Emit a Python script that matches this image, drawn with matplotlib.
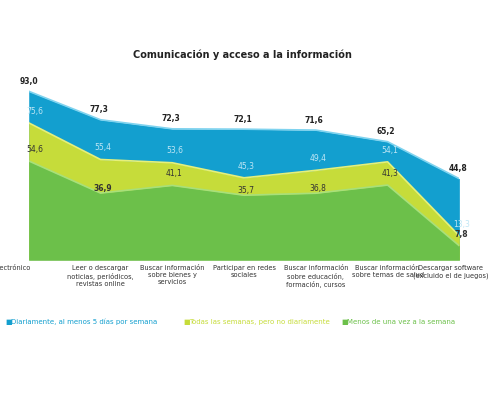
import matplotlib.pyplot as plt
import numpy as np

categories = ["Correo electrónico", "Leer o descargar\nnoticias, periódicos,\nrevistas online",
              "Buscar información\nsobre bienes y\nservicios", "Participar en redes\nsociales",
              "Buscar información\nsobre educación,\nformación, cursos", "Buscar información\nsobre temas de salud",
              "Descargar software\n(excluido el de juegos)"]
diario = [93.0, 77.3, 72.3, 72.1, 71.6, 65.2, 44.8]
semanal = [75.6, 55.4, 53.6, 45.3, 49.4, 54.1, 13.3]
menos = [54.6, 36.9, 41.1, 35.7, 36.8, 41.3, 7.8]

fmt = lambda v: f"{v:.1f}".replace(".", ",")
blue, yellow, green = "#139fcf", "#c6dc3a", "#6cc04a"

fig = plt.figure(figsize=(4.95, 4.0), dpi=100)
ax = fig.add_axes([0.058, 0.35, 0.87, 0.44])
x = np.arange(len(categories))
ax.fill_between(x, 0, diario, color=blue, lw=0)
ax.plot(x, diario, color="#7fd3ef", lw=1.2)
ax.fill_between(x, 0, semanal, color=yellow, lw=0)
ax.plot(x, semanal, color="#e6f07a", lw=1.2)
ax.fill_between(x, 0, menos, color=green, lw=0)
ax.plot(x, menos, color="#a8e07a", lw=1.2)
for i in range(len(x)):
    ax.text(x[i] - 0.02 if i else 0, diario[i] + 3, fmt(diario[i]), ha="center", va="bottom", fontsize=5.5, fontweight="bold", color="#222")
    ax.text(x[i] + (0.03 if i else 0.08), semanal[i] + 4, fmt(semanal[i]), ha="center", va="bottom", fontsize=5.5, color="#bfe6f5")
    ax.text(x[i] + (0.03 if i else 0.08), menos[i] + 4 if i not in (1, 3, 4) else menos[i], fmt(menos[i]), ha="center", va="bottom", fontsize=5.5, fontweight="bold" if i in (1, 6) else "normal", color="#333")
ax.set_xlim(0, len(x) - 1)
ax.set_ylim(0, 97)
ax.axis("off")
for i, c in enumerate(categories):
    ha = "center"
    xi = x[i]
    if i == 0:
        xi = -0.4
    elif i == len(x) - 1:
        xi = x[i] - 0.12
    ax.text(xi, -3, c, ha=ha, va="top", fontsize=4.8, color="#333")
fig.text(0.49, 0.855, "Comunicación y acceso a la información", ha="center", fontsize=7, fontweight="bold", color="#222")
leg = [("Diariamente, al menos 5 días por semana", blue, 0.01),
       ("Todas las semanas, pero no diariamente", yellow, 0.37),
       ("Menos de una vez a la semana", green, 0.69)]
for t, c, xx in leg:
    fig.text(xx, 0.195, "■", color=c, fontsize=5, va="center")
    fig.text(xx + 0.012, 0.195, t, color=c, fontsize=5, va="center")
fig.savefig("out.png", dpi=100, facecolor="white")
